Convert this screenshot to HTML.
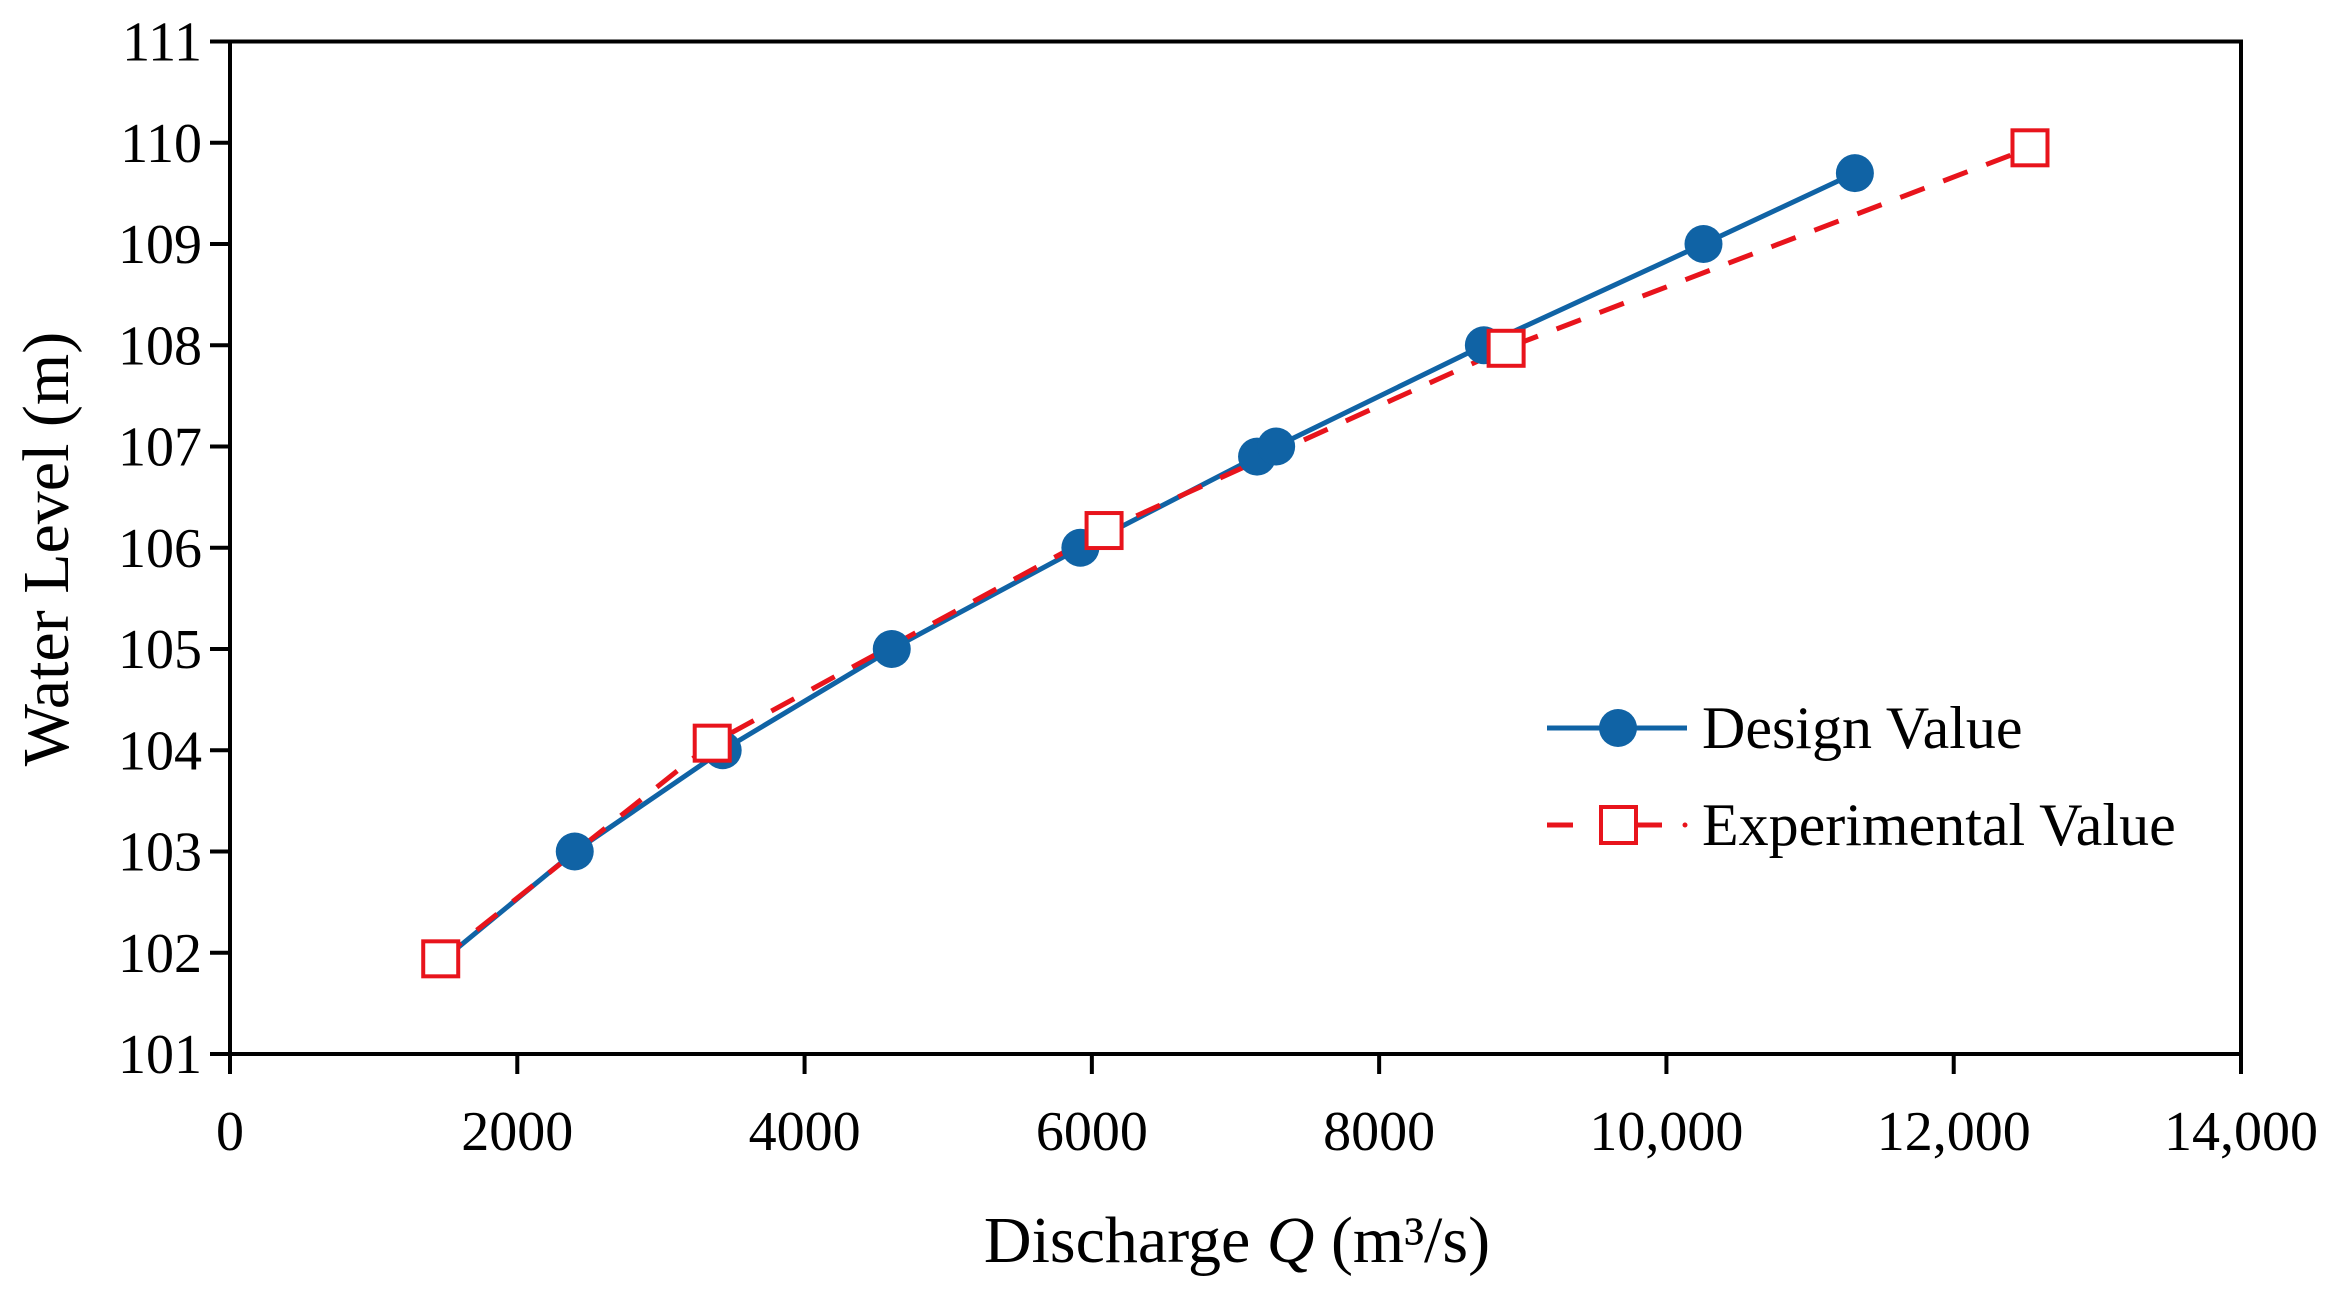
<!DOCTYPE html>
<html><head><meta charset="utf-8">
<style>
html,body{margin:0;padding:0;background:#fff;}
svg{display:block;font-family:"Liberation Serif",serif;}
</style></head>
<body>
<svg id="chart" width="2327" height="1290" viewBox="0 0 2327 1290">
<rect x="230" y="41.5" width="2011" height="1012.5" fill="none" stroke="#000" stroke-width="4"/>
<g id="xticks"></g>
<g id="yticks"></g>
<g id="series"></g>
<text transform="translate(68,549) rotate(-90)" text-anchor="middle" font-size="66">Water Level (m)</text>
<text x="1237" y="1262" text-anchor="middle" font-size="66">Discharge <tspan font-style="italic">Q</tspan> (m³/s)</text>
<g>
 <g>
  <line x1="1547" y1="728" x2="1687" y2="728" stroke="#1063a5" stroke-width="5"/>
  <circle cx="1618" cy="728" r="19" fill="#1063a5"/>
  <text x="1702" y="748" font-size="60">Design Value</text>
 </g>
 <g>
  <line x1="1547" y1="825" x2="1573" y2="825" stroke="#e8141c" stroke-width="5"/>
  <line x1="1637" y1="825" x2="1662" y2="825" stroke="#e8141c" stroke-width="5"/>
  <circle cx="1685" cy="825" r="2.5" fill="#e8141c"/>
  <rect x="1601" y="807" width="35" height="36" fill="#fff" stroke="#e8141c" stroke-width="4"/>
  <text x="1702" y="845" font-size="60">Experimental Value</text>
 </g>
</g>
</svg>
<script>
const xTicks=[0,2000,4000,6000,8000,10000,12000,14000];
const xTickLabels=["0","2000","4000","6000","8000","10,000","12,000","14,000"];
const yTicks=[101,102,103,104,105,106,107,108,109,110,111];
const designQ=[1500,2400,3430,4607,5920,7150,7283,8729,10258,11312];
const designH=[101.95,103.0,104.0,105.0,106.0,106.9,107.0,108.0,109.0,109.7];
const expQ=[1467,3357,6085,8884,12531];
const expH=[101.94,104.07,106.17,107.97,109.95];

const NS="http://www.w3.org/2000/svg";
const X0=230,X1=2241,Y0=1054,Y1=41.5;
function sx(v){return X0+(v-0)/(14000-0)*(X1-X0);}
function sy(v){return Y0-(v-101)/(111-101)*(Y0-Y1);}
function mk(tag,attrs,parent){const e=document.createElementNS(NS,tag);for(const k in attrs)e.setAttribute(k,attrs[k]);parent.appendChild(e);return e;}

const gx=document.getElementById('xticks');
xTicks.forEach((t,i)=>{
  const l=mk('line',{x1:sx(t),x2:sx(t),y1:Y0,y2:Y0+20,stroke:'#000','stroke-width':4},gx);
  
  
  const tx=mk('text',{x:sx(t),y:1150,'text-anchor':'middle','font-size':56},gx);
  tx.textContent=xTickLabels[i];
  
  
});
const gy=document.getElementById('yticks');
yTicks.forEach(t=>{
  const l=mk('line',{x1:X0-20,x2:X0,y1:sy(t),y2:sy(t),stroke:'#000','stroke-width':4},gy);
  
  
  const tx=mk('text',{x:202,y:sy(t)+19,'text-anchor':'end','font-size':56},gy);
  tx.textContent=String(t);
  
  
});

const gs=document.getElementById('series');
const dPts=designQ.map((q,i)=>sx(q)+','+sy(designH[i])).join(' ');
const dl=mk('polyline',{points:dPts,fill:'none',stroke:'#1063a5','stroke-width':5,'stroke-linejoin':'round'},gs);


const ePts=expQ.map((q,i)=>sx(q)+','+sy(expH[i])).join(' ');
const el=mk('polyline',{points:ePts,fill:'none',stroke:'#e8141c','stroke-width':5,'stroke-dasharray':'26 20'},gs);


// first design point lies beneath the first experimental square (no visible marker)
designQ.forEach((q,i)=>{
  if(i===0)return;
  const c=mk('circle',{cx:sx(q),cy:sy(designH[i]),r:19,fill:'#1063a5'},gs);
  
  
});
expQ.forEach((q,i)=>{
  const r=mk('rect',{x:sx(q)-17.5,y:sy(expH[i])-17.5,width:35,height:35,fill:'#fff',stroke:'#e8141c','stroke-width':4},gs);
  
  
});
</script>
</body></html>
